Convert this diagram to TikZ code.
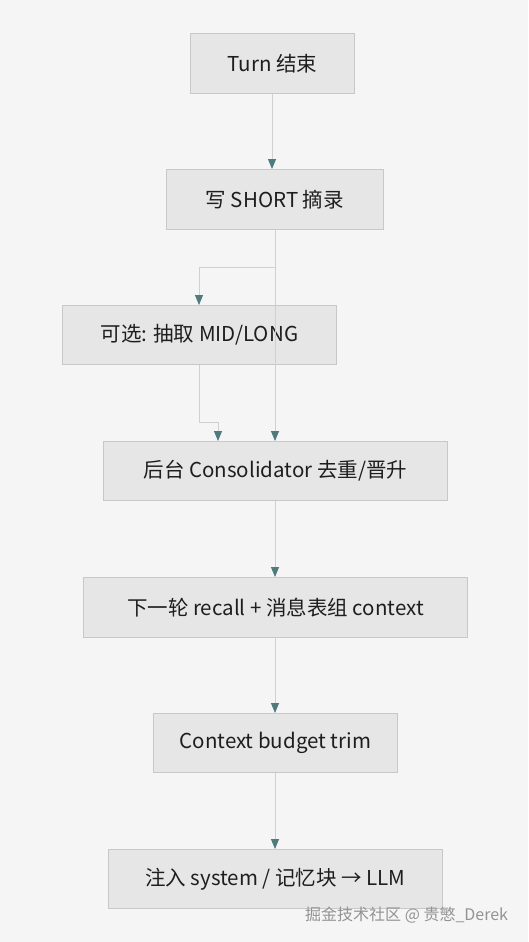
\documentclass[tikz,border=0pt]{standalone}
\usepackage{fontspec}
\setmainfont{Noto Sans CJK SC}
\usetikzlibrary{arrows.meta}
\definecolor{bg}{HTML}{F5F5F5}
\definecolor{boxfill}{HTML}{E6E6E6}
\definecolor{boxline}{HTML}{C8C8C8}
\definecolor{edge}{HTML}{D0D0D0}
\definecolor{tip}{HTML}{4E7B7B}
\definecolor{txt}{HTML}{1E1E1E}
\tikzset{
  stepbox/.style={draw=boxline, fill=boxfill, line width=0.8pt, text=txt,
    font=\fontsize{20.5}{24}\selectfont, anchor=north west, inner sep=0pt},
  flow/.style={draw=edge, line width=0.9pt,
    -{Triangle[width=8pt,length=10pt,fill=tip,color=tip]}},
}
\begin{document}
\begin{tikzpicture}[x=1pt,y=-1pt]
\useasboundingbox[fill=bg] (0,0) rectangle (528,942);
\node[stepbox, minimum width=164pt, minimum height=60pt] (n1) at (190,33) {Turn 结束};
\node[stepbox, minimum width=217pt, minimum height=60pt] (n2) at (166,169) {写 SHORT 摘录};
\node[stepbox, minimum width=274pt, minimum height=59pt] (n3) at (62,305) {可选: 抽取 MID/LONG};
\node[stepbox, minimum width=344pt, minimum height=59pt] (n4) at (103,441) {后台 Consolidator 去重/晋升};
\node[stepbox, minimum width=384pt, minimum height=60pt] (n5) at (83,577) {下一轮 recall + 消息表组 context};
\node[stepbox, minimum width=244pt, minimum height=59pt] (n6) at (153,713) {Context budget trim};
\node[stepbox, minimum width=334pt, minimum height=59pt] (n7) at (108,849) {注入 system / 记忆块 → LLM};
% connectors
\coordinate (a2) at (272,0);
\draw[flow] (n1.south -| a2) -- (n2.north -| a2);
\coordinate (b2) at (275,0);
\coordinate (b3) at (199,267);
\draw[flow] (n2.south -| b2) |- (b3) -- (n3.north -| b3);
\draw[flow] (n2.south -| b2) -- (n4.north -| b2);
\coordinate (c3) at (199,422);
\coordinate (c4) at (218,422);
\draw[flow] (n3.south -| c3) -- (c3) -- (c4) -- (n4.north -| c4);
\draw[flow] (n4.south -| b2) -- (n5.north -| b2);
\draw[flow] (n5.south -| b2) -- (n6.north -| b2);
\draw[flow] (n6.south -| b2) -- (n7.north -| b2);
\node[text=gray!85, font=\fontsize{16}{18}\selectfont, anchor=west, inner sep=0pt] (wm) at (305,915) {掘金技术社区 @ 贵慜\_Derek};
\end{tikzpicture}
\end{document}
